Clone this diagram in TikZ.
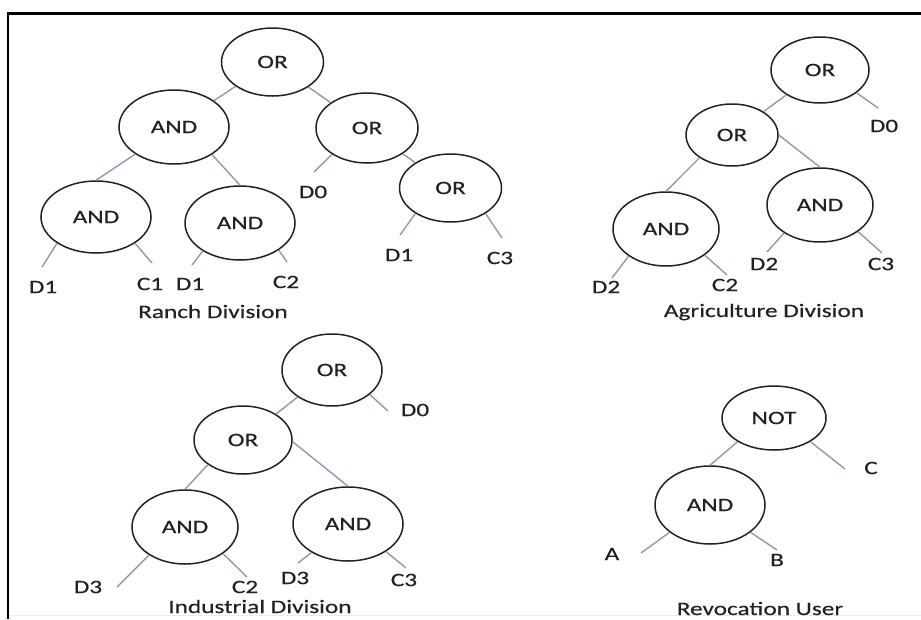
\documentclass[tikz,border=0pt]{standalone}
\usepackage{fontspec}
\usetikzlibrary{shapes.geometric}
\newfontfamily\gatefont[FakeStretch=1.33,FakeBold=0.35]{Carlito}
\definecolor{linec}{HTML}{8A9BB0}
\definecolor{inkc}{HTML}{222222}
\begin{document}
\begin{tikzpicture}[x=1pt,y=-1pt,
  gate/.style 2 args={ellipse, draw=inkc, line width=1.5pt, inner sep=0pt,
    minimum width=#1pt, minimum height=#2pt, text=inkc,
    font={\gatefont\fontsize{19}{22}\selectfont}},
  lbl/.style={inner sep=0pt, text=inkc, font={\gatefont\fontsize{19}{22}\selectfont}},
  ttl/.style={inner sep=0pt, anchor=base, text=inkc, font={\gatefont\fontsize{19}{22}\selectfont}},
  edge/.style={draw=linec, line width=1.4pt}]
\useasboundingbox (0,0) rectangle (921,619);
\fill[white] (0,0) rectangle (921,619);
% frame
\draw[black!8, line width=0.8pt] (9,615) -- (921,615);
\draw[black, line width=2.6pt] (8,619) -- (8,13.5) -- (921,13.5);

% ---------------- Ranch Division ----------------
\node[gate={102}{68}] (r1) at (272.5,62) {OR};
\node[gate={110}{74}] (r2) at (174,127) {AND};
\node[gate={102}{70}] (r3) at (367,128) {OR};
\node[gate={110}{72}] (r4) at (96,217) {AND};
\node[gate={110}{74}] (r5) at (240,223) {AND};
\node[gate={102}{68}] (r6) at (450.5,188) {OR};
\node[lbl] (rD0) at (313,192) {D0};
\node[lbl] (rD1c) at (399,255) {D1};
\node[lbl] (rC3) at (500,258) {C3};
\node[lbl] (rD1a) at (43,287) {D1};
\node[lbl] (rC1) at (150,284) {C1};
\node[lbl] (rD1b) at (190,284) {D1};
\node[lbl] (rC2) at (286,282) {C2};
\node[ttl] (rT) at (213,318) {Ranch Division};
\coordinate (er1) at (314,172);
\coordinate (er2) at (400,235);
\coordinate (er3) at (502,238);
\coordinate (er4) at (42,267);
\coordinate (er5) at (152,263);
\coordinate (er6) at (192,265);
\coordinate (er7) at (287,262);
\draw[edge] (r1) -- (r2);
\draw[edge] (r1) -- (r3);
\draw[edge] (r2.215) -- (r4.north);
\draw[edge] (r2.-36) -- (r5.north);
\draw[edge] (r3) -- (r6);
\draw[edge] (r3.217) -- (er1);
\draw[edge] (r6.216) -- (er2);
\draw[edge] (r6.-36) -- (er3);
\draw[edge] (r4.214) -- (er4);
\draw[edge] (r4.-34) -- (er5);
\draw[edge] (r5.217) -- (er6);
\draw[edge] (r5.-35) -- (er7);

% ---------------- Agriculture Division ----------------
\node[gate={98}{66}] (a1) at (820,70) {OR};
\node[gate={92}{62}] (a2) at (732,135) {OR};
\node[gate={106}{74}] (a3) at (666,229) {AND};
\node[gate={106}{74}] (a4) at (820,205) {AND};
\node[lbl] (aD0) at (884,126) {D0};
\node[lbl] (aD2a) at (606,287) {D2};
\node[lbl] (aC2) at (725,285) {C2};
\node[lbl] (aD2b) at (764,264) {D2};
\node[lbl] (aC3) at (881,264) {C3};
\node[ttl] (aT) at (764,317) {Agriculture Division};
\coordinate (ea1) at (878,108);
\coordinate (ea2) at (612,278);
\coordinate (ea3) at (727,275);
\coordinate (ea4) at (767,252);
\coordinate (ea5) at (882,253);
\draw[edge] (a1) -- (a2);
\draw[edge] (a1.-32) -- (ea1);
\draw[edge] (a2.215) -- (a3.north);
\draw[edge] (a2.east) -- (a4.north);
\draw[edge] (a3.216) -- (ea2);
\draw[edge] (a3.-34) -- (ea3);
\draw[edge] (a4.218) -- (ea4);
\draw[edge] (a4.-35) -- (ea5);

% ---------------- Industrial Division ----------------
\node[gate={100}{72}] (i1) at (332,370) {OR};
\node[gate={98}{68}] (i2) at (243,440) {OR};
\node[gate={106}{74}] (i3) at (185,527) {AND};
\node[gate={110}{74}] (i4) at (348,524) {AND};
\node[lbl] (iD0) at (415,410) {D0};
\node[lbl] (iD3a) at (88,587) {D3};
\node[lbl] (iC2) at (245,587) {C2};
\node[lbl] (iD3b) at (295,578) {D3};
\node[lbl] (iC3) at (404,580) {C3};
\node[ttl] (iT) at (260,613) {Industrial Division};
\coordinate (ei1) at (388,411);
\coordinate (ei2) at (117,587);
\coordinate (ei3) at (247,577);
\coordinate (ei4) at (298,563);
\coordinate (ei5) at (406,568);
\draw[edge] (i1) -- (i2);
\draw[edge] (i1.-33) -- (ei1);
\draw[edge] (i2.215) -- (i3.north);
\draw[edge] (i2.-2) -- (i4.north);
\draw[edge] (i3.218) -- (ei2);
\draw[edge] (i3.-35) -- (ei3);
\draw[edge] (i4.218) -- (ei4);
\draw[edge] (i4.-36) -- (ei5);

% ---------------- Revocation User ----------------
\node[gate={104}{64}] (v1) at (774,418) {NOT};
\node[gate={110}{78}] (v2) at (710,505) {AND};
\node[lbl] (vC) at (871,468) {C};
\node[lbl] (vA) at (612,554) {A};
\node[lbl] (vB) at (777,560) {B};
\node[ttl] (vT) at (760,615) {Revocation User};
\coordinate (ev1) at (845,469);
\coordinate (ev2) at (641,553);
\coordinate (ev3) at (777,550);
\draw[edge] (v1.213) -- (v2.north);
\draw[edge] (v1.-33) -- (ev1);
\draw[edge] (v2.214) -- (ev2);
\draw[edge] (v2.-34) -- (ev3);
\end{tikzpicture}
\end{document}
